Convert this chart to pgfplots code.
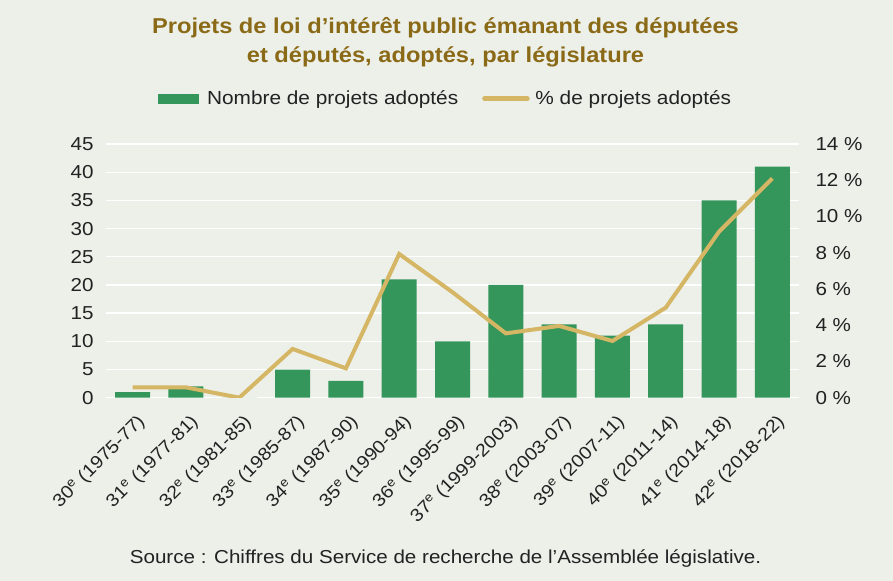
\documentclass[border=0pt]{standalone}
\usepackage{fontspec}
\setmainfont{Liberation Sans}[FakeStretch=1.1]
\usepackage{pgfplots}
\pgfplotsset{compat=1.18}
\definecolor{bg}{HTML}{ECF0E9}
\definecolor{bargreen}{HTML}{35965C}
\definecolor{linegold}{HTML}{D4B664}
\definecolor{titlecol}{HTML}{8B6A17}
\definecolor{txt}{HTML}{222222}
\begin{document}
\begin{tikzpicture}[x=1bp,y=1bp]
\fill[bg] (0,0) rectangle (893,581);
\useasboundingbox (0,0) rectangle (893,581);
\node[titlecol, font=\fontsize{21.6}{25}\selectfont\bfseries, anchor=base] at (445.5,547.7) {Projets de loi d’intérêt public émanant des députées};
\node[titlecol, font=\fontsize{21.6}{25}\selectfont\bfseries, anchor=base] at (445.5,518.3) {et députés, adoptés, par législature};
\node[txt, font=\fontsize{18.8}{20}\selectfont, anchor=base] at (445.5,17.7) {Source : Chiffres du Service de recherche de l’Assemblée législative.};
\begin{axis}[
  at={(106bp,183.3bp)}, anchor=south west,
  scale only axis, width=693bp, height=253.7bp,
  xmin=-0.5, xmax=12.5, ymin=0, ymax=45,
  xtick={0,...,12},
  xticklabels={30\textsuperscript{e} (1975-77),31\textsuperscript{e} (1977-81),32\textsuperscript{e} (1981-85),33\textsuperscript{e} (1985-87),34\textsuperscript{e} (1987-90),35\textsuperscript{e} (1990-94),36\textsuperscript{e} (1995-99),37\textsuperscript{e} (1999-2003),38\textsuperscript{e} (2003-07),39\textsuperscript{e} (2007-11),40\textsuperscript{e} (2011-14),41\textsuperscript{e} (2014-18),42\textsuperscript{e} (2018-22)},
  ytick={0,5,...,45},
  ymajorgrids, grid style={white, line width=1.3bp},
  axis line style={draw=none},
  major tick length=0pt,
  /pgf/number format/assume math mode=true,
  ticklabel style={font=\fontsize{18.8}{20}\selectfont, text=txt},
  yticklabel style={xshift=-9bp},
  xticklabel style={rotate=45, anchor=east, font=\fontsize{18}{20}\selectfont, yshift=-22bp, xshift=-5bp},
  ybar, bar width=35bp,
  legend style={at={(0.49,1.179)}, anchor=center, legend columns=2, draw=none, fill=none,
    font=\fontsize{19}{20}\selectfont, text=txt,
    /tikz/every even column/.style={column sep=22bp}},
]
\addplot[fill=bargreen, draw=none,
  legend image code/.code={\fill[bargreen] (0bp,-5bp) rectangle (41bp,5bp); \path[draw=none,fill=none] (0bp,0bp) -- (47bp,0bp);}]
  coordinates {(0,1) (1,2) (2,0) (3,5) (4,3) (5,21) (6,10) (7,20) (8,13) (9,11) (10,13) (11,35) (12,41)};
\addlegendentry{Nombre de projets adoptés}
\addlegendimage{draw=none, fill=none, legend image code/.code={\draw[linegold, line width=4.5bp, line cap=round] (2bp,0bp) -- (45bp,0bp); \path[draw=none,fill=none] (0bp,0bp) -- (51bp,0bp);}}
\addlegendentry{\% de projets adoptés}
\end{axis}
\begin{axis}[
  at={(106bp,183.3bp)}, anchor=south west,
  scale only axis, width=693bp, height=253.7bp,
  xmin=-0.5, xmax=12.5, ymin=0, ymax=14,
  hide x axis,
  axis y line*=right,
  axis line style={draw=none},
  major tick length=0pt,
  ytick={0,2,...,14},
  /pgf/number format/assume math mode=true,
  yticklabel={\pgfmathprintnumber{\tick}~\%},
  ticklabel style={font=\fontsize{18.8}{20}\selectfont, text=txt},
  yticklabel style={xshift=13bp},
]
\addplot[linegold, line width=4bp, mark=none]
  coordinates {(0,0.57) (1,0.57) (2,0) (3,2.69) (4,1.62) (5,7.93) (6,5.82) (7,3.55) (8,3.96) (9,3.13) (10,4.97) (11,9.16) (12,12.1)};
\end{axis}
\end{tikzpicture}
\end{document}
